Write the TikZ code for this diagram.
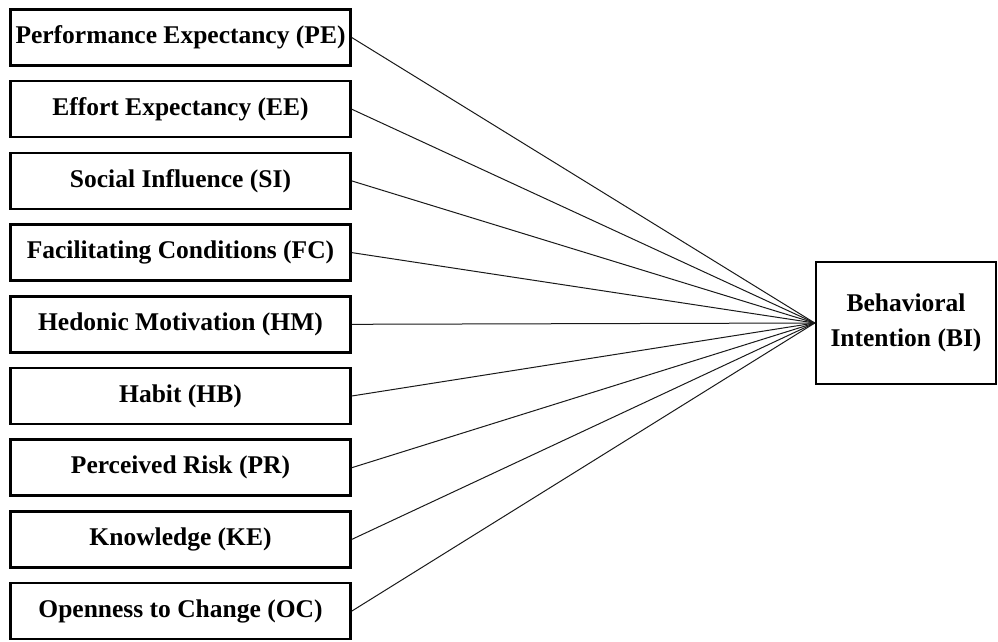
\documentclass[tikz,border=0pt]{standalone}
\usepackage{fontspec}
\setmainfont{Liberation Serif}
\usepackage{tikz}
\usetikzlibrary{positioning}
\tikzset{factor/.style = {draw, rectangle, line width = 2.5, minimum width = 340,
                          minimum height = 56, inner sep = 0,
                          font = \fontsize{25.5}{35}\selectfont\bfseries}}
\tikzset{link/.style = {line width = 1}}
\definecolor{mline}{rgb}{0.1, 0.1, 0.1}

\begin{document}
\begin{tikzpicture}[x = 1pt, y = -1pt]
      \useasboundingbox (0, 0) rectangle (998, 641);
      \node [factor, minimum width = 180, minimum height = 122, align = center]
        (bi) at (906, 323) {Behavioral\\Intention (BI)};
      \foreach \n/\t [count = \i from 0] in {pe/Performance Expectancy (PE),
                                             ee/Effort Expectancy (EE),
                                             si/Social Influence (SI),
                                             fc/Facilitating Conditions (FC),
                                             hm/Hedonic Motivation (HM),
                                             hb/Habit (HB),
                                             pr/Perceived Risk (PR),
                                             ke/Knowledge (KE),
                                             oc/Openness to Change (OC)} {
        \node [factor] (\n) at (180.5, 37.5 + 71.7*\i) {\t};
        \draw [link, mline] (\n.east) -- (bi.west);
      }
    \end{tikzpicture}
\end{document}
